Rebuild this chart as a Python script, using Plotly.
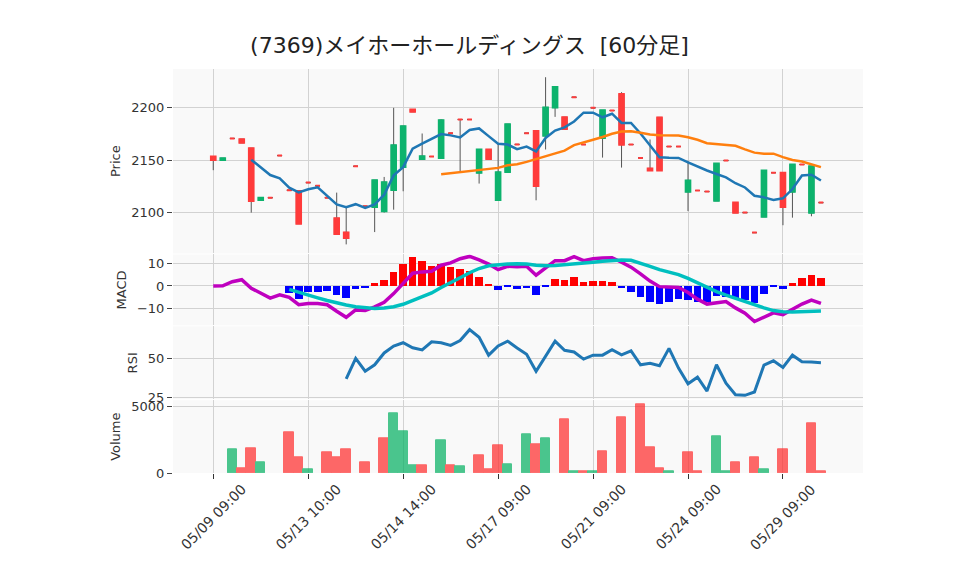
import plotly.graph_objects as go
from plotly.subplots import make_subplots

TITLE = "(7369)メイホーホールディングス  [60分足]"

TIMES = [
    "05/09 09:00", "05/09 10:00", "05/09 11:00", "05/09 12:00", "05/09 13:00", "05/09 14:00",
    "05/10 09:00", "05/10 10:00", "05/10 11:00",
    "05/13 09:00", "05/13 10:00", "05/13 11:00", "05/13 12:00", "05/13 13:00", "05/13 14:00", "05/13 15:00",
    "05/14 09:00", "05/14 10:00", "05/14 11:00", "05/14 13:00", "05/14 14:00", "05/14 15:00",
    "05/15 09:00", "05/15 10:00", "05/15 11:00", "05/15 13:00",
    "05/16 09:00", "05/16 10:00", "05/16 13:00", "05/16 14:00",
    "05/17 09:00", "05/17 10:00", "05/17 11:00", "05/17 13:00", "05/17 14:00",
    "05/20 09:00", "05/20 10:00", "05/20 11:00", "05/20 13:00", "05/20 14:00",
    "05/21 09:00", "05/21 10:00", "05/21 11:00", "05/21 13:00",
    "05/22 09:00", "05/22 10:00", "05/22 13:00",
    "05/23 09:00", "05/23 11:00", "05/23 14:00",
    "05/24 09:00", "05/24 10:00", "05/24 13:00", "05/24 14:00",
    "05/27 09:00", "05/27 10:00", "05/27 14:00",
    "05/28 09:00", "05/28 13:00", "05/28 14:00",
    "05/29 09:00", "05/29 10:00", "05/29 11:00", "05/29 13:00", "05/29 14:00",
]
TICK_LABELS = ["05/09 09:00", "05/13 10:00", "05/14 14:00", "05/17 09:00",
               "05/21 09:00", "05/24 09:00", "05/29 09:00"]

OPEN = [2153.3, 2150.1, 2170.5, 2169.8, 2161.2, 2112.0, 2114.2, 2154.2, 2121.2, 2120.6,
        2128.5, 2125.5, 2114.2, 2094.6, 2081.2, 2144.0, 2106.0, 2105.3, 2101.2, 2121.5,
        2143.4, 2198.0, 2151.0, 2153.3, 2152.0, 2175.4, 2188.5, 2188.5, 2137.8, 2160.0,
        2112.0, 2138.7, 2164.8, 2175.4, 2177.5, 2173.0, 2199.8, 2190.7, 2209.6, 2164.7,
        2199.6, 2171.0, 2197.0, 2212.7, 2164.7, 2152.0, 2142.0, 2190.5, 2162.8, 2162.8,
        2119.8, 2121.0, 2120.0, 2111.2, 2149.5, 2109.6, 2100.0, 2081.0, 2096.0, 2138.0,
        2138.0, 2119.8, 2145.7, 2099.8, 2109.5]
HIGH = [2153.3, 2151.7, 2170.5, 2169.8, 2161.2, 2114.2, 2114.2, 2154.2, 2121.2, 2120.6,
        2128.5, 2125.5, 2114.2, 2119.0, 2104.4, 2144.0, 2106.0, 2130.8, 2133.9, 2199.6,
        2182.2, 2198.0, 2175.2, 2153.3, 2188.5, 2175.4, 2188.5, 2188.5, 2160.0, 2160.0,
        2165.0, 2184.0, 2164.8, 2175.4, 2178.4, 2228.7, 2219.5, 2190.7, 2209.6, 2164.7,
        2199.6, 2197.2, 2197.0, 2214.5, 2164.7, 2152.0, 2169.5, 2190.5, 2162.8, 2162.8,
        2149.3, 2121.0, 2120.0, 2146.6, 2149.5, 2109.6, 2100.0, 2081.0, 2140.0, 2138.0,
        2138.0, 2145.7, 2145.7, 2144.0, 2109.5]
LOW = [2140.3, 2150.1, 2170.5, 2166.3, 2100.0, 2112.0, 2114.2, 2154.2, 2121.2, 2089.5,
       2128.5, 2125.5, 2114.2, 2079.6, 2069.8, 2144.0, 2106.0, 2081.5, 2100.0, 2102.8,
       2120.3, 2195.9, 2151.0, 2153.3, 2152.0, 2175.4, 2139.0, 2188.5, 2127.6, 2151.0,
       2112.0, 2138.7, 2164.8, 2175.4, 2111.7, 2160.0, 2191.0, 2179.5, 2209.6, 2164.7,
       2199.6, 2152.3, 2197.0, 2142.8, 2164.7, 2152.0, 2140.0, 2140.0, 2162.8, 2162.8,
       2101.4, 2121.0, 2120.0, 2111.2, 2149.5, 2099.8, 2100.0, 2081.0, 2096.0, 2138.0,
       2088.0, 2095.2, 2145.7, 2096.5, 2109.5]
CLOSE = [2150.1, 2151.7, 2170.5, 2166.3, 2111.0, 2114.2, 2114.2, 2154.2, 2121.2, 2089.5,
         2128.5, 2125.5, 2114.2, 2079.6, 2075.8, 2144.0, 2106.0, 2130.8, 2128.9, 2164.1,
         2182.2, 2195.9, 2153.6, 2153.3, 2187.9, 2175.4, 2188.5, 2188.5, 2160.0, 2151.0,
         2138.4, 2184.0, 2164.8, 2175.4, 2125.4, 2200.0, 2219.5, 2179.5, 2209.6, 2164.7,
         2199.6, 2197.2, 2197.0, 2164.6, 2164.7, 2152.0, 2140.0, 2140.0, 2162.8, 2162.8,
         2130.6, 2121.0, 2120.0, 2146.6, 2149.5, 2099.8, 2100.0, 2081.0, 2140.0, 2138.0,
         2105.4, 2145.7, 2145.7, 2144.0, 2109.5]
VOLUME = [0, 0, 1770, 330, 1840, 780, 0, 0, 3050, 1160,
          250, 0, 1540, 1160, 1770, 0, 780, 0, 2600, 4500,
          3130, 550, 550, 0, 2450, 550, 480, 0, 1310, 250,
          2070, 630, 0, 2900, 2150, 2600, 0, 4040, 150, 150,
          150, 1620, 0, 4190, 0, 5150, 1920, 330, 150, 0,
          1540, 150, 0, 2750, 150, 780, 0, 1160, 250, 0,
          1770, 0, 0, 3740, 150]

SMA5 = [None, None, None, None, 2150.3, 2143.1, 2135.7, 2132.5, 2123.7, 2119.2,
        2122.2, 2124.1, 2115.8, 2107.8, 2105.2, 2108.0, 2104.4, 2107.8, 2117.0, 2135.4,
        2143.2, 2160.7, 2165.6, 2170.2, 2174.6, 2173.4, 2171.5, 2178.5, 2180.0, 2172.7,
        2165.5, 2164.7, 2160.3, 2162.8, 2158.2, 2171.0, 2178.0, 2181.0, 2186.6, 2195.0,
        2195.0, 2190.6, 2194.0, 2185.2, 2185.2, 2175.2, 2163.4, 2152.7, 2152.2, 2152.0,
        2147.8, 2143.8, 2140.0, 2136.7, 2133.5, 2127.9, 2123.9, 2116.0, 2114.5, 2112.1,
        2113.6, 2122.4, 2135.3, 2136.0, 2130.5]
SMA25 = [None] * 24 + [
        2136.5, 2137.4, 2138.7, 2139.7, 2140.0, 2140.9,
        2142.5, 2145.0, 2146.0, 2148.2, 2150.9, 2153.1, 2156.2, 2158.9, 2164.1, 2167.0,
        2169.2, 2171.9, 2174.9, 2177.1, 2177.4, 2176.0, 2174.3, 2173.5, 2173.4, 2173.3,
        2171.6, 2169.2, 2166.0, 2165.2, 2165.0, 2163.5, 2160.1, 2157.0, 2155.9, 2156.0,
        2152.7, 2150.0, 2148.6, 2146.0, 2143.2]

MACD = [0.0, 0.1, 1.9, 2.8, -1.0, -3.4, -5.4, -4.0, -5.1, -8.4,
        -7.8, -7.8, -8.4, -11.3, -14.0, -10.7, -11.0, -9.3, -7.3, -3.4,
        1.0, 5.7, 6.3, 6.6, 9.3, 10.3, 12.2, 13.2, 11.7, 9.8,
        7.3, 8.8, 8.6, 8.8, 4.8, 8.1, 11.3, 11.3, 13.1, 11.3,
        12.2, 12.5, 12.6, 10.6, 8.4, 5.4, 2.2, -0.3, -0.4, -0.7,
        -2.9, -5.9, -8.1, -7.6, -7.0, -9.8, -12.2, -15.9, -14.0, -12.0,
        -12.8, -10.3, -8.1, -6.3, -7.8]
SIGNAL = [None] * 8 + [
        -1.5, -2.9,
        -4.1, -5.3, -6.5, -7.6, -8.5, -9.3, -9.8, -10.1, -9.8, -9.3,
        -8.2, -6.6, -4.8, -3.1, -0.7, 1.3, 3.7, 5.9, 7.8, 9.0,
        9.5, 9.8, 9.9, 9.8, 9.3, 9.0, 9.1, 9.4, 10.0, 10.3,
        10.6, 11.0, 11.3, 11.6, 11.5, 10.3, 8.8, 7.3, 6.3, 5.1,
        3.4, 1.3, -0.7, -2.5, -4.1, -5.6, -7.0, -8.5, -9.8, -11.0,
        -11.5, -11.6, -11.5, -11.3, -11.2]
HIST = [None] * 8 + [
        -3.4, -6.0,
        -2.9, -2.9, -2.5, -4.1, -5.6, -1.6, -1.2, 1.3, 2.6, 6.2,
        9.7, 12.8, 11.0, 8.8, 9.5, 8.1, 7.3, 6.3, 3.7, 0.6,
        -1.9, -0.7, -1.5, -1.0, -4.1, -0.7, 2.9, 2.5, 4.0, 1.8,
        2.2, 2.2, 1.8, -1.2, -2.9, -5.1, -7.3, -8.1, -7.3, -5.9,
        -6.6, -7.3, -7.3, -4.8, -5.1, -5.6, -6.6, -7.8, -3.7, -0.7,
        -1.5, 1.2, 3.4, 4.8, 3.4]
RSI = [None] * 14 + [
        36.9, 49.8, 41.7, 45.8, 53.3, 57.7,
        59.8, 56.6, 55.2, 60.4, 59.8, 58.1, 61.2, 68.1, 63.3, 51.9,
        57.7, 60.8, 56.4, 52.5, 41.7, 51.4, 60.8, 55.0, 53.9, 49.4,
        51.9, 51.9, 55.4, 52.1, 54.6, 45.8, 46.7, 45.2, 56.2, 43.7,
        33.7, 37.9, 29.1, 45.8, 34.1, 26.8, 26.4, 28.5, 45.6, 48.3,
        44.1, 51.9, 47.7, 47.5, 47.1]

UP = "#0DB36D"
DOWN = "#FF3B3B"
VOL_UP = "#00AF60"
VOL_DOWN = "#FF2A2A"
FONT = "DejaVu Sans, Noto Sans CJK JP, sans-serif"

n = len(CLOSE)
up = [CLOSE[i] > OPEN[i] for i in range(n)]
down = [not u for u in up]


def pick(vals, mask):
    return [v if m else None for v, m in zip(vals, mask)]


body_hi = [max(o, c) for o, c in zip(OPEN, CLOSE)]
body_lo = [min(o, c) for o, c in zip(OPEN, CLOSE)]
vol_colors = [VOL_DOWN] + [VOL_UP if CLOSE[i] > CLOSE[i - 1] else VOL_DOWN
                           for i in range(1, n)]
vol_edges = [c if v > 0 else "rgba(0,0,0,0)" for c, v in zip(vol_colors, VOLUME)]
hist_colors = ["#FF0000" if (h is not None and h > 0) else "#0000FF" for h in HIST]

fig = make_subplots(rows=4, cols=1, shared_xaxes=True, vertical_spacing=0.0)

# wicks (gray), drawn under the bodies
fig.add_trace(go.Candlestick(
    x=TIMES, open=OPEN, high=HIGH, low=LOW, close=CLOSE,
    increasing=dict(line=dict(color="#555555", width=1), fillcolor="#555555"),
    decreasing=dict(line=dict(color="#555555", width=1), fillcolor="#555555"),
    showlegend=False, hoverinfo="skip"), row=1, col=1)
# bodies: rising candles (green) and falling / flat candles (red)
for mask, col in ((up, UP), (down, DOWN)):
    fig.add_trace(go.Candlestick(
        x=TIMES, open=pick(OPEN, mask), high=pick(body_hi, mask),
        low=pick(body_lo, mask), close=pick(CLOSE, mask),
        increasing=dict(line=dict(color=col, width=2), fillcolor=col),
        decreasing=dict(line=dict(color=col, width=2), fillcolor=col),
        showlegend=False), row=1, col=1)
fig.add_trace(go.Scatter(x=TIMES, y=SMA5, mode="lines",
                         line=dict(color="#1F77B4", width=2.5), showlegend=False), row=1, col=1)
fig.add_trace(go.Scatter(x=TIMES, y=SMA25, mode="lines",
                         line=dict(color="#FF7F0E", width=2.5), showlegend=False), row=1, col=1)

fig.add_trace(go.Bar(x=TIMES, y=HIST, marker=dict(color=hist_colors, line=dict(width=0)),
                     width=0.8, showlegend=False), row=2, col=1)
fig.add_trace(go.Scatter(x=TIMES, y=MACD, mode="lines",
                         line=dict(color="#BF00BF", width=3.5), showlegend=False), row=2, col=1)
fig.add_trace(go.Scatter(x=TIMES, y=SIGNAL, mode="lines",
                         line=dict(color="#00BFBF", width=3.5), showlegend=False), row=2, col=1)

fig.add_trace(go.Scatter(x=TIMES, y=RSI, mode="lines",
                         line=dict(color="#1F77B4", width=3), showlegend=False), row=3, col=1)

fig.add_trace(go.Bar(x=TIMES, y=VOLUME, width=1.0, opacity=0.7,
                     marker=dict(color=vol_colors, line=dict(color=vol_edges, width=1)),
                     showlegend=False), row=4, col=1)

grid = "#D2D2D2"
xcommon = dict(type="category", categoryorder="array", categoryarray=TIMES,
               range=[-4.24, 68.43], showgrid=True, gridcolor=grid, gridwidth=1,
               tickmode="array", tickvals=TICK_LABELS, ticktext=TICK_LABELS,
               showticklabels=False, zeroline=False, showline=False,
               rangeslider=dict(visible=False))
for i in range(1, 5):
    key = "xaxis" if i == 1 else f"xaxis{i}"
    fig.layout[key].update(**xcommon)
fig.layout.xaxis4.update(ticks="outside", ticklen=5, tickcolor="#333")

# rotated date labels, centred under their ticks
for lab in TICK_LABELS:
    fig.add_annotation(x=lab, xref="x4", y=-0.109, yref="paper", text=lab,
                       textangle=-45, showarrow=False, xanchor="center", yanchor="middle",
                       font=dict(size=14, color="#333", family=FONT))

ycommon = dict(showgrid=True, gridcolor=grid, gridwidth=1, zeroline=False, showline=False,
               ticks="outside", ticklen=5, tickcolor="#444",
               tickfont=dict(size=13, color="#333"),
               title=dict(font=dict(size=13, color="#333"), standoff=7))
fig.layout.yaxis.update(domain=[0.5435, 1.0], range=[2061.2, 2236.5],
                        tickvals=[2100, 2150, 2200], **ycommon)
fig.layout.yaxis2.update(domain=[0.3655, 0.541], range=[-17.6, 14.1],
                         tickvals=[-10, 0, 10], **ycommon)
fig.layout.yaxis3.update(domain=[0.1825, 0.363], range=[23.9, 70.2],
                         tickvals=[25, 50], **ycommon)
fig.layout.yaxis4.update(domain=[0.0, 0.18], range=[0, 5480],
                         tickvals=[0, 5000], **ycommon)
fig.layout.yaxis.title.text = "Price"
fig.layout.yaxis2.title.text = "MACD"
fig.layout.yaxis3.title.text = "RSI"
fig.layout.yaxis4.title.text = "Volume"

fig.update_layout(
    width=958, height=575,
    margin=dict(l=165, r=103, t=61, b=110),
    paper_bgcolor="white", plot_bgcolor="#F9F9F9",
    font=dict(family=FONT, size=13, color="#333"),
    title=dict(text=TITLE, x=0.4817, xanchor="center", y=0.9357, yanchor="middle",
               xref="container", yref="container",
               font=dict(size=22, color="#222", family=FONT)),
    showlegend=False, bargap=0,
)

fig.write_html("out.html")
